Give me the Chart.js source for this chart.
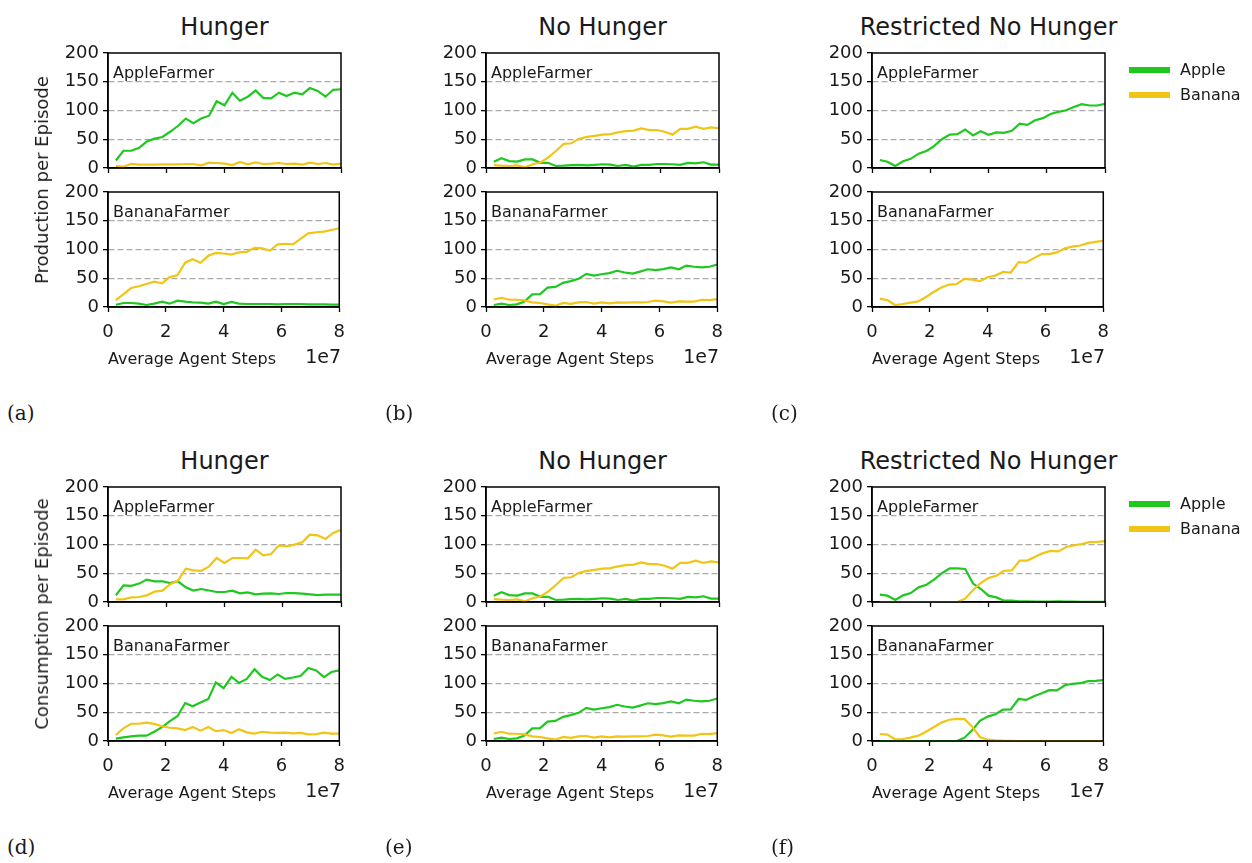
<!DOCTYPE html>
<html>
<head>
<meta charset="utf-8">
<script src="https://cdn.jsdelivr.net/npm/chart.js@4.4.1/dist/chart.umd.min.js"></script>
<style>
  body { margin: 0; width: 1252px; height: 863px; position: relative; overflow: hidden; background: #fff;
         font-family: "DejaVu Sans", sans-serif; color: #1a1a1a; }
  canvas { position: absolute; }
  .txt { position: absolute; white-space: nowrap; line-height: 1; }
  .serif { font-family: "DejaVu Serif", serif; }
  .swatch { position: absolute; height: 6px; width: 41px; }
</style>
</head>
<body>
<script>
// training steps (x 1e7)
const steps = [0.27, 0.53, 0.8, 1.07, 1.33, 1.6, 1.87, 2.13, 2.4, 2.67, 2.93, 3.2, 3.47, 3.73, 4.0,
               4.27, 4.53, 4.8, 5.07, 5.33, 5.6, 5.87, 6.13, 6.4, 6.67, 6.93, 7.2, 7.47, 7.73, 8.0];

// --- production ---
const prodHungerAppleFarmerApple = [13, 30, 30, 35, 46, 51, 54, 63, 73, 86, 78, 86, 91, 116, 109, 131, 117, 124, 135, 122, 121, 131, 125, 131, 128, 139, 134, 124, 136, 137];
const prodHungerAppleFarmerBanana = [3.5, 2.3, 7, 5.8, 5.8, 5.8, 6.4, 6.4, 6.4, 7, 7, 4.6, 9.2, 8.7, 7.5, 5.2, 10.4, 6.4, 9.8, 7, 7.5, 8.7, 7, 7.5, 5.8, 9.2, 7, 8.7, 5.8, 7.5];
const prodHungerBananaFarmerApple = [4, 7, 7, 5.8, 3.5, 5.8, 9.3, 5.8, 11, 9.3, 8, 7.5, 5.8, 9.3, 5.2, 8.7, 5.8, 5.2, 5.2, 5.2, 5.2, 4.6, 5.2, 5.2, 5.2, 4.6, 4.6, 4.6, 4, 4];
const prodHungerBananaFarmerBanana = [12, 22, 33, 36, 40, 44, 41, 52, 55, 77, 83, 77, 89, 94, 93, 91, 95, 96, 103, 102, 98, 109, 110, 109, 119, 128, 130, 131, 134, 137];

const prodNoHungerAppleFarmerApple = [11, 17, 12, 11, 15, 15, 9, 9, 3.5, 4, 5, 5.5, 4.6, 5.5, 6.5, 6, 3.5, 5.5, 2.3, 5.5, 5.5, 7, 7, 6.5, 5.5, 9, 8, 10, 6, 6];
const prodNoHungerAppleFarmerBanana = [5, 4, 3.5, 4.6, 1, 6.5, 9.5, 18, 29.5, 42, 43, 51, 54, 56, 58, 59, 62, 64, 65, 69, 66, 66, 63, 58, 68, 68, 72, 68, 70.5, 69];
const prodNoHungerBananaFarmerApple = [3.5, 5.8, 3.5, 4.6, 9.3, 22, 22.5, 33.7, 35, 42, 45, 49, 57.6, 54.6, 57, 59, 63, 60, 58, 61.6, 65.6, 64, 66, 69, 65.6, 72, 70, 69, 70, 74];
const prodNoHungerBananaFarmerBanana = [13, 16, 12.6, 12.6, 11.6, 8, 7, 4.6, 2.3, 7, 5.3, 8, 8.7, 5.8, 8, 6.4, 8, 7.5, 8, 8, 8.7, 11, 9.9, 7.5, 9.9, 9.3, 9.3, 12.6, 12, 13.7];

const prodRestrictedAppleFarmerApple = [13.9, 11, 3.5, 11.6, 16, 25, 29.5, 38, 50, 58, 59, 67, 56.6, 64, 57.8, 62, 61, 64.7, 77, 75, 83, 86.7, 94, 97.6, 100.5, 106, 111, 108.7, 108.7, 111.4];
const prodRestrictedBananaFarmerBanana = [14.5, 12, 3.5, 5.2, 7.5, 9.8, 17.4, 26, 34, 39, 40, 49, 47.6, 45, 51.7, 54.6, 61, 60, 78, 77, 85, 92, 92, 95, 102, 105, 107, 111, 113.4, 115];

// --- consumption ---
const consHungerAppleFarmerApple = [11.6, 29, 28, 32, 39, 36, 36, 33, 36, 25.5, 20, 22.6, 20, 17.4, 17.4, 19.7, 15, 16.8, 13.3, 14.5, 15, 13.9, 15.6, 15.6, 14.5, 13.3, 12, 12.8, 12.8, 12.8];
const consHungerAppleFarmerBanana = [4.6, 4.6, 8, 8.7, 11.6, 18, 19.7, 31, 37, 58, 55, 54, 62, 76.5, 68, 76.5, 76.5, 76, 91, 81, 83.5, 98.5, 96.7, 99.7, 103.7, 117, 116, 109.6, 120, 125.7];
const consHungerBananaFarmerApple = [4, 6.4, 8, 9.3, 9.3, 16, 24, 34, 43, 66, 60.5, 67, 73, 102, 92, 111.7, 101, 108, 125, 111.7, 106, 115.7, 108, 110.5, 113.4, 127, 122.7, 111, 120, 122.7];
const consHungerBananaFarmerBanana = [10.5, 22, 30, 30, 32, 29.7, 25.6, 23, 22, 19, 24.4, 18, 24.4, 17, 19, 14, 20.4, 15, 12.8, 16, 14.5, 14, 14.5, 13.4, 14, 11.6, 12, 14.5, 12.8, 12.8];

// no hunger: consumption equals production
const consNoHungerAppleFarmerApple = prodNoHungerAppleFarmerApple;
const consNoHungerAppleFarmerBanana = prodNoHungerAppleFarmerBanana;
const consNoHungerBananaFarmerApple = prodNoHungerBananaFarmerApple;
const consNoHungerBananaFarmerBanana = prodNoHungerBananaFarmerBanana;

const consRestrictedAppleFarmerApple = [12.7, 11, 3.5, 11.6, 15.6, 25.5, 30, 38.8, 50, 58.5, 58.5, 57.4, 32, 23, 11, 8, 2.3, 2.3, 1, 1, 0.8, 0.5, 0.5, 1, 0.5, 0.5, 0.3, 0.3, 0.3, 0.3];
const consRestrictedAppleFarmerBanana = [0, 0, 0, 0, 0, 0, 0, 0, 0, 0, 0, 5.8, 21, 33, 41.7, 45.7, 54.4, 55, 72, 72, 78.8, 85, 89, 88, 95.6, 98.4, 100.8, 104, 104.5, 106];
const consRestrictedBananaFarmerApple = [0, 0, 0, 0, 0, 0, 0, 0, 0, 0, 0, 5.8, 19, 35, 42.4, 46.5, 54.6, 55, 73, 71.5, 78, 83, 88.5, 88, 97, 99.5, 100.5, 104, 104.6, 106];
const consRestrictedBananaFarmerBanana = [12.2, 11, 3, 3.5, 5.8, 9.3, 16, 24, 32, 37, 38.4, 38, 25, 7, 2.3, 1.2, 0.6, 0.3, 0, 0, 0, 0, 0, 0, 0, 0, 0, 0, 0, 0];

const xTicks = [0, 2, 4, 6, 8];
const yTicks = [0, 50, 100, 150, 200];

const FONT = '"DejaVu Sans", sans-serif';
const INK = '#1a1a1a';
const GREEN = '#1fc81f';
const YELLOW = '#f1c516';

const PLOT_W = 233, PLOT_H = 115;
const PAD_L = 62, PAD_R = 14, PAD_T = 18;   // room for the half-height of end tick labels

// axes box all around, like matplotlib spines
const framePlugin = {
    id: 'frame',
    afterDatasetsDraw(chart) {
        const { ctx, chartArea: a } = chart;
        ctx.save();
        ctx.strokeStyle = '#000';
        ctx.lineWidth = 1.5;
        ctx.strokeRect(a.left, a.top, a.right - a.left, a.bottom - a.top);
        ctx.restore();
    }
};

function addText(str, x, y, size, cls, extra) {
    const d = document.createElement('div');
    d.className = 'txt' + (cls ? ' ' + cls : '');
    d.textContent = str;
    d.style.left = x + 'px';
    d.style.top = y + 'px';
    d.style.fontSize = size + 'px';
    if (extra) Object.assign(d.style, extra);
    document.body.appendChild(d);
    return d;
}

function pairs(vals) {
    return vals.map((v, i) => ({ x: steps[i], y: v }));
}

function subplot(left, top, name, apple, banana, withLabels) {
    const padB = withLabels ? 42 : 18;
    const cv = document.createElement('canvas');
    cv.width = PAD_L + PLOT_W + PAD_R;
    cv.height = PAD_T + PLOT_H + padB;
    cv.style.left = (left - PAD_L) + 'px';
    cv.style.top = (top - PAD_T) + 'px';
    document.body.appendChild(cv);

    const datasets = [];
    if (apple) datasets.push({ label: 'Apple', data: pairs(apple), borderColor: GREEN, order: 1 });
    if (banana) datasets.push({ label: 'Banana', data: pairs(banana), borderColor: YELLOW, order: 0 });

    new Chart(cv, {
        type: 'line',
        data: { datasets },
        options: {
            responsive: false,
            animation: false,
            events: [],
            devicePixelRatio: 1,
            layout: { padding: { left: 0, top: PAD_T, right: PAD_R, bottom: 0 } },
            elements: { point: { radius: 0 }, line: { borderWidth: 2.2, tension: 0 } },
            plugins: { legend: { display: false }, tooltip: { enabled: false } },
            scales: {
                x: {
                    type: 'linear', min: 0, max: 8,
                    afterFit: s => { s.height = padB; },
                    afterBuildTicks: s => { s.ticks = xTicks.map(v => ({ value: v })); },
                    ticks: { display: withLabels, font: { size: 18, family: FONT }, color: INK, padding: 10, maxRotation: 0 },
                    grid: { drawOnChartArea: false, tickLength: 5, tickColor: '#000', tickWidth: 1.3 },
                    border: { display: true, color: '#000', width: 1.5 }
                },
                y: {
                    min: 0, max: 200,
                    afterFit: s => { s.width = PAD_L; },
                    afterBuildTicks: s => { s.ticks = yTicks.map(v => ({ value: v })); },
                    ticks: { font: { size: 18, family: FONT }, color: INK, padding: 4 },
                    grid: {
                        color: c => (c.tick && (c.tick.value === 0 || c.tick.value === 200)) ? 'rgba(0,0,0,0)' : '#aaaaaa',
                        lineWidth: 1.3, tickLength: 5, tickColor: '#000', tickWidth: 1.3
                    },
                    border: { display: true, color: '#000', width: 1.5, dash: [6, 3] }
                }
            }
        },
        plugins: [framePlugin]
    });

    addText(name, left + 5, top + 12, 16);
}

function panel(left, rowTop, title, tag, ylabel, upper, lower) {
    addText(title, left + PLOT_W / 2, rowTop - 38, 24, '', { transform: 'translateX(-50%)' });
    subplot(left, rowTop, 'AppleFarmer', upper[0], upper[1], false);
    subplot(left, rowTop + 139, 'BananaFarmer', lower[0], lower[1], true);
    addText('Average Agent Steps', left, rowTop + 298, 16);
    addText('1e7', left + PLOT_W, rowTop + 294, 19, '', { transform: 'translateX(-100%)' });
    addText(tag, left - 101, rowTop + 350, 20, 'serif');
    if (ylabel) {
        addText(ylabel, 42, rowTop + 127, 18, '', { transform: 'translate(-50%,-50%) rotate(-90deg)' });
    }
}

function legend(top) {
    const items = [['Apple', GREEN], ['Banana', YELLOW]];
    items.forEach(([name, col], i) => {
        const y = top + i * 25;
        const sw = document.createElement('div');
        sw.className = 'swatch';
        sw.style.left = '1129px';
        sw.style.top = (y - 3) + 'px';
        sw.style.background = col;
        document.body.appendChild(sw);
        addText(name, 1180, y - 8, 16);
    });
}

const panelLefts = [108, 486, 872];
const rowTops = [53, 487];

// production row
panel(panelLefts[0], rowTops[0], 'Hunger', '(a)', 'Production per Episode',
      [prodHungerAppleFarmerApple, prodHungerAppleFarmerBanana],
      [prodHungerBananaFarmerApple, prodHungerBananaFarmerBanana]);
panel(panelLefts[1], rowTops[0], 'No Hunger', '(b)', null,
      [prodNoHungerAppleFarmerApple, prodNoHungerAppleFarmerBanana],
      [prodNoHungerBananaFarmerApple, prodNoHungerBananaFarmerBanana]);
panel(panelLefts[2], rowTops[0], 'Restricted No Hunger', '(c)', null,
      [prodRestrictedAppleFarmerApple, null],
      [null, prodRestrictedBananaFarmerBanana]);
legend(70);

// consumption row
panel(panelLefts[0], rowTops[1], 'Hunger', '(d)', 'Consumption per Episode',
      [consHungerAppleFarmerApple, consHungerAppleFarmerBanana],
      [consHungerBananaFarmerApple, consHungerBananaFarmerBanana]);
panel(panelLefts[1], rowTops[1], 'No Hunger', '(e)', null,
      [consNoHungerAppleFarmerApple, consNoHungerAppleFarmerBanana],
      [consNoHungerBananaFarmerApple, consNoHungerBananaFarmerBanana]);
panel(panelLefts[2], rowTops[1], 'Restricted No Hunger', '(f)', null,
      [consRestrictedAppleFarmerApple, consRestrictedAppleFarmerBanana],
      [consRestrictedBananaFarmerApple, consRestrictedBananaFarmerBanana]);
legend(504);
</script>
</body>
</html>
